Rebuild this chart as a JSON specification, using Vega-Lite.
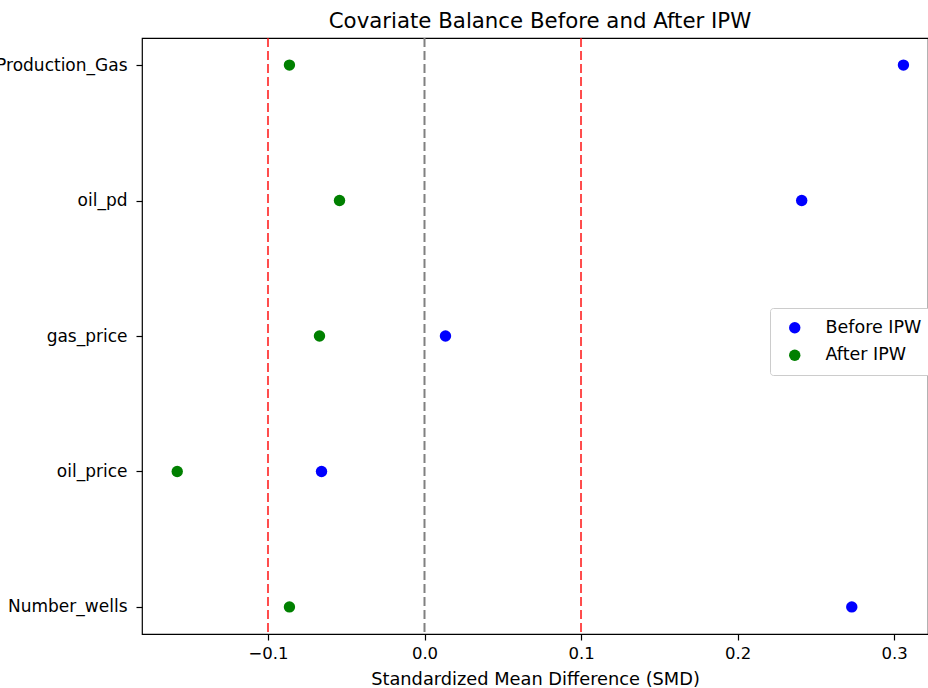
{
  "$schema": "https://vega.github.io/schema/vega-lite/v6.json",
  "autosize": {"type": "none"},
  "padding": {"left": 142, "top": 38, "right": 0, "bottom": 54},
  "width": 786,
  "height": 596,
  "background": "white",
  "config": {
    "font": "DejaVu Sans",
    "view": {"stroke": "black", "strokeWidth": 1.2},
    "axis": {"grid": false, "domain": false, "tickColor": "black", "tickSize": 6, "tickWidth": 1.2, "labelColor": "black", "labelFont": "DejaVu Sans", "labelFontSize": 16.5, "titleFont": "DejaVu Sans", "titleFontSize": 17.8, "titleFontWeight": "normal", "titleColor": "black", "labelPadding": 5}
  },
  "title": {"text": "Covariate Balance Before and After IPW", "font": "DejaVu Sans", "fontSize": 21.3, "fontWeight": "normal", "color": "black", "offset": 5, "anchor": "middle", "dx": 5},
  "datasets": {
    "smd": [
      {"covariate": "Production_Gas", "group": "Before IPW", "smd": 0.306},
      {"covariate": "oil_pd", "group": "Before IPW", "smd": 0.241},
      {"covariate": "gas_price", "group": "Before IPW", "smd": 0.0134},
      {"covariate": "oil_price", "group": "Before IPW", "smd": -0.0658},
      {"covariate": "Number_wells", "group": "Before IPW", "smd": 0.273},
      {"covariate": "Production_Gas", "group": "After IPW", "smd": -0.0863},
      {"covariate": "oil_pd", "group": "After IPW", "smd": -0.0543},
      {"covariate": "gas_price", "group": "After IPW", "smd": -0.0671},
      {"covariate": "oil_price", "group": "After IPW", "smd": -0.158},
      {"covariate": "Number_wells", "group": "After IPW", "smd": -0.0863}
    ],
    "thresholds": [
      {"x": -0.1},
      {"x": 0.1}
    ],
    "zero": [{"x": 0}]
  },
  "layer": [
    {
      "data": {"name": "thresholds"},
      "mark": {"type": "rule", "color": "red", "opacity": 0.7, "strokeDash": [9, 4], "strokeWidth": 2},
      "encoding": {"x": {"field": "x", "type": "quantitative"}}
    },
    {
      "data": {"name": "zero"},
      "mark": {"type": "rule", "color": "gray", "strokeDash": [9, 4], "strokeWidth": 2},
      "encoding": {"x": {"field": "x", "type": "quantitative"}}
    },
    {
      "data": {"name": "smd"},
      "mark": {"type": "point", "filled": true, "opacity": 1, "size": 130},
      "encoding": {
        "x": {"field": "smd", "type": "quantitative", "scale": {"domain": [-0.1805, 0.3217], "nice": false, "zero": false},
              "axis": {"values": [-0.1, 0, 0.1, 0.2, 0.3], "format": ".1f", "labelExpr": "replace(datum.label, '-', '−')", "title": "Standardized Mean Difference (SMD)", "titlePadding": 8.5}},
        "y": {"field": "covariate", "type": "nominal", "sort": ["Production_Gas", "oil_pd", "gas_price", "oil_price", "Number_wells"],
              "scale": {"type": "point", "padding": 0.2}, "axis": {"title": null, "labelFontSize": 17, "labelPadding": 9}},
        "color": {"field": "group", "type": "nominal", "scale": {"domain": ["Before IPW", "After IPW"], "range": ["blue", "green"]},
                  "legend": {"title": null, "orient": "none", "legendX": 628, "legendY": 270, "labelFontSize": 17.5, "labelFont": "DejaVu Sans", "labelColor": "black", "symbolSize": 130, "symbolType": "circle", "rowPadding": 8.5, "labelOffset": 22, "padding": 11, "symbolOffset": 5, "strokeColor": "#cccccc", "fillColor": "white", "cornerRadius": 3}}
      }
    }
  ]
}
